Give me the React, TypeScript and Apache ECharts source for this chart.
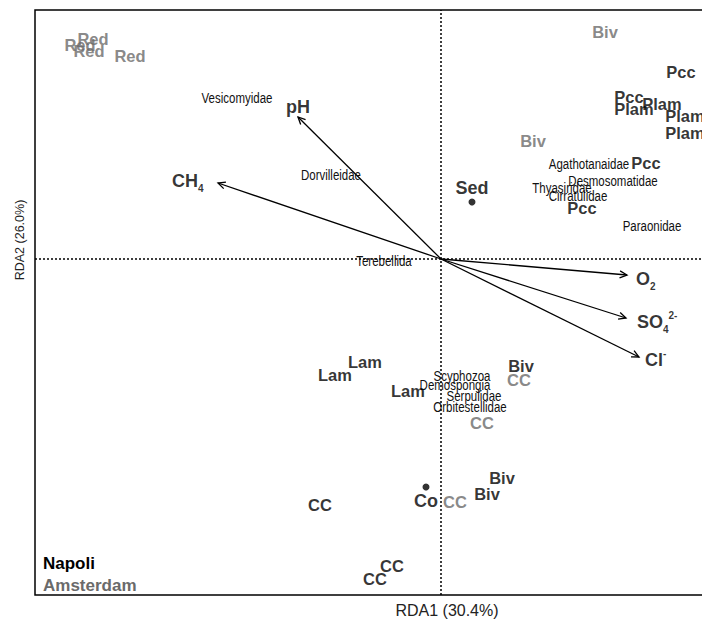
import React, { useEffect, useRef } from 'react';
import * as echarts from 'echarts';

// Axis ranges (RDA score units)
const xRange = [-4.06, 2.69];
const yRange = [-3.36, 2.49];

// Site scores (labels) and their city
const siteNames = ['Red', 'Red', 'Red', 'Red', 'Biv', 'Biv', 'CC', 'CC', 'CC',
  'Pcc', 'Pcc', 'Plam', 'Plam', 'Plam', 'Plam', 'Pcc', 'Pcc', 'Lam', 'Lam', 'Lam', 'Biv', 'Biv', 'Biv', 'CC', 'CC', 'CC'];
const siteX = [-3.48, -3.61, -3.52, -3.11, 1.64, 0.92, 0.78, 0.41, 0.14,
  2.40, 1.88, 1.93, 2.21, 2.44, 2.44, 2.05, 1.41, -0.76, -1.06, -0.33, 0.80, 0.61, 0.46, -1.21, -0.49, -0.66];
const siteY = [2.20, 2.14, 2.08, 2.03, 2.27, 1.18, -1.21, -1.64, -2.43,
  1.87, 1.62, 1.50, 1.55, 1.43, 1.26, 0.96, 0.51, -1.03, -1.16, -1.32, -1.07, -2.19, -2.35, -2.46, -3.07, -3.20];
const siteCity = ['Amsterdam', 'Amsterdam', 'Amsterdam', 'Amsterdam', 'Amsterdam', 'Amsterdam', 'Amsterdam', 'Amsterdam', 'Amsterdam',
  'Napoli', 'Napoli', 'Napoli', 'Napoli', 'Napoli', 'Napoli', 'Napoli', 'Napoli', 'Napoli', 'Napoli', 'Napoli', 'Napoli', 'Napoli', 'Napoli', 'Napoli', 'Napoli', 'Napoli'];
const cities = ['Napoli', 'Amsterdam'];

// Species scores
const speciesNames = ['Vesicomyidae', 'Dorvilleidae', 'Terebellida', 'Agathotanaidae', 'Desmosomatidae', 'Thyasiridae',
  'Cirratulidae', 'Paraonidae', 'Scyphozoa', 'Demospongia', 'Serpulidae', 'Orbitestellidae'];
const speciesX = [-2.04, -1.10, -0.57, 1.48, 1.72, 1.21, 1.37, 2.11, 0.21, 0.14, 0.33, 0.29];
const speciesY = [1.61, 0.84, -0.02, 0.95, 0.78, 0.71, 0.63, 0.33, -1.17, -1.26, -1.37, -1.48];

// Environmental vectors
const envNames = ['pH', 'CH4', 'O2', 'SO42-', 'Cl-'];
const envRich = ['{m|pH}', '{m|CH}{sub|4}', '{m|O}{sub|2}', '{m|SO}{sub|4}{sup|2-}', '{m|Cl}{supCl|-}'];
const envX = [-1.43, -2.23, 1.86, 1.85, 1.98];
const envY = [1.42, 0.76, -0.16, -0.59, -0.98];
const envLabelX = [-1.55, -2.69, 1.95, 1.96, 2.04];
const envLabelY = [1.52, 0.78, -0.20, -0.63, -1.01];

// Group centroids
const centroidNames = ['Sed', 'Co'];
const centroidX = [0.31, -0.15];
const centroidY = [0.57, -2.28];
const centroidLabelPos = ['top', 'bottom'];

const axisTitles = ['RDA1 (30.4%)', 'RDA2 (26.0%)'];

const GREY = '#6a6a6a';
const SANS = "'Liberation Sans', Arial, Helvetica, sans-serif";

export default function App() {
  const ref = useRef<HTMLDivElement>(null);

  useEffect(() => {
    const chart = echarts.init(ref.current!, null, { renderer: 'svg' });

    const cityColor: Record<string, string> = { Napoli: '#000', Amsterdam: GREY };

    const siteSeries = cities.map((city) => ({
      name: city,
      type: 'scatter',
      symbol: 'circle',
      symbolSize: 1,
      itemStyle: { color: 'rgba(0,0,0,0)' },
      silent: true,
      z: 5,
      label: {
        show: true,
        position: 'inside',
        formatter: '{b}',
        color: cityColor[city],
        fontFamily: SANS,
        fontWeight: 'bold',
        fontSize: 16.5,
      },
      emphasis: { disabled: true },
      data: siteNames
        .map((n, i) => ({ name: n, value: [siteX[i], siteY[i]], city: siteCity[i] }))
        .filter((d) => d.city === city)
        .map((d) => ({ name: d.name, value: d.value })),
    }));

    const option: any = {
      animation: false,
      backgroundColor: '#fff',
      grid: {
        left: 35,
        top: 10,
        right: 2,
        bottom: 24,
        show: true,
        borderColor: '#000',
        borderWidth: 1.5,
        backgroundColor: 'transparent',
      },
      xAxis: {
        type: 'value',
        min: xRange[0],
        max: xRange[1],
        axisLine: { show: false },
        axisTick: { show: false },
        axisLabel: { show: false },
        splitLine: { show: false },
      },
      yAxis: {
        type: 'value',
        min: yRange[0],
        max: yRange[1],
        axisLine: { show: false },
        axisTick: { show: false },
        axisLabel: { show: false },
        splitLine: { show: false },
      },
      legend: {
        data: [
          { name: 'Napoli', textStyle: { color: '#000' } },
          { name: 'Amsterdam', textStyle: { color: GREY } },
        ],
        orient: 'vertical',
        left: 38,
        top: 555,
        padding: 0,
        icon: 'none',
        itemWidth: 0,
        itemHeight: 16,
        itemGap: 5,
        selectedMode: false,
        textStyle: { fontFamily: SANS, fontWeight: 'bold', fontSize: 17 },
      },
      graphic: [
        {
          type: 'text',
          x: 447,
          y: 610,
          style: {
            text: axisTitles[0],
            fontFamily: SANS,
            fontSize: 16,
            fill: '#222',
            align: 'center',
            verticalAlign: 'middle',
          },
        },
        {
          type: 'text',
          x: 19.5,
          y: 240,
          rotation: Math.PI / 2,
          style: {
            text: axisTitles[1],
            fontFamily: SANS,
            fontSize: 12.5,
            fill: '#222',
            align: 'center',
            verticalAlign: 'middle',
          },
        },
      ],
      series: [
        {
          name: 'axis0h',
          type: 'line',
          symbol: 'none',
          silent: true,
          z: 1,
          lineStyle: { color: '#000', width: 1.5, type: [2, 2] },
          data: [[xRange[0], 0], [xRange[1], 0]],
        },
        {
          name: 'axis0v',
          type: 'line',
          symbol: 'none',
          silent: true,
          z: 1,
          lineStyle: { color: '#000', width: 1.5, type: [2, 2] },
          data: [[0, yRange[0]], [0, yRange[1]]],
        },
        {
          name: 'vectors',
          type: 'custom',
          silent: true,
          z: 3,
          renderItem: (_params: any, api: any) => {
            const o = api.coord([0, 0]);
            const e = api.coord([api.value(0), api.value(1)]);
            const ang = Math.atan2(e[1] - o[1], e[0] - o[0]);
            const L = 8;
            const a = Math.PI / 7;
            const p1 = [e[0] - L * Math.cos(ang - a), e[1] - L * Math.sin(ang - a)];
            const p2 = [e[0] - L * Math.cos(ang + a), e[1] - L * Math.sin(ang + a)];
            return {
              type: 'group',
              children: [
                { type: 'line', shape: { x1: o[0], y1: o[1], x2: e[0], y2: e[1] }, style: { stroke: '#000', lineWidth: 1.3 } },
                { type: 'polyline', shape: { points: [p1, e, p2] }, style: { stroke: '#000', fill: null, lineWidth: 1.3 } },
              ],
            };
          },
          data: envX.map((x, i) => [x, envY[i]]),
        },
        {
          name: 'envLabels',
          type: 'scatter',
          symbolSize: 1,
          itemStyle: { color: 'rgba(0,0,0,0)' },
          silent: true,
          z: 6,
          label: {
            show: true,
            position: 'inside',
            align: 'left',
            verticalAlign: 'middle',
            formatter: (p: any) => envRich[p.dataIndex],
            rich: {
              m: { fontFamily: SANS, fontWeight: 'bold', fontSize: 18, color: '#000', lineHeight: 24 },
              sub: { fontFamily: SANS, fontWeight: 'bold', fontSize: 10, color: '#000', lineHeight: 10, verticalAlign: 'bottom' },
              sup: { fontFamily: SANS, fontWeight: 'bold', fontSize: 10, color: '#000', lineHeight: 10, verticalAlign: 'top' },
              supCl: { fontFamily: SANS, fontWeight: 'bold', fontSize: 10, color: '#000', lineHeight: 16, verticalAlign: 'top' },
            },
          },
          emphasis: { disabled: true },
          data: envNames.map((n, i) => ({ name: n, value: [envLabelX[i], envLabelY[i]] })),
        },
        {
          name: 'species',
          type: 'custom',
          silent: true,
          z: 4,
          renderItem: (params: any, api: any) => {
            const p = api.coord([api.value(0), api.value(1)]);
            return {
              type: 'text',
              x: p[0],
              y: p[1],
              scaleX: 0.82,
              style: {
                text: speciesNames[params.dataIndex],
                x: 0,
                y: 0,
                fontFamily: SANS,
                fontSize: 14,
                fill: '#111',
                align: 'center',
                verticalAlign: 'middle',
              },
            };
          },
          data: speciesNames.map((_n, i) => [speciesX[i], speciesY[i]]),
        },
        {
          name: 'centroids',
          type: 'scatter',
          symbol: 'circle',
          symbolSize: 7,
          itemStyle: { color: '#000' },
          silent: true,
          z: 6,
          label: {
            show: true,
            formatter: '{b}',
            color: '#000',
            fontFamily: SANS,
            fontWeight: 'bold',
            fontSize: 18,
          },
          emphasis: { disabled: true },
          data: centroidNames.map((n, i) => ({
            name: n,
            value: [centroidX[i], centroidY[i]],
            label: { position: centroidLabelPos[i], distance: i === 0 ? 2 : 1 },
          })),
        },
        ...siteSeries,
      ],
    };

    chart.setOption(option);
    return () => chart.dispose();
  }, []);

  return (
    <div style={{ position: 'fixed', left: 0, top: 0, width: 702, height: 619, overflow: 'hidden', background: '#fff' }}>
      <div ref={ref} style={{ width: 712, height: 619 }} />
    </div>
  );
}
